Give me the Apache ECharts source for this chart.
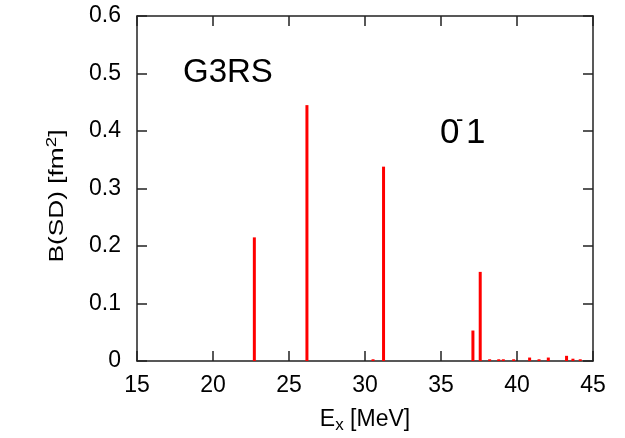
<!DOCTYPE html>
<html>
<head>
<meta charset="utf-8">
<script src="https://cdn.jsdelivr.net/npm/echarts@6/dist/echarts.min.js"></script>
<style>
html,body{margin:0;padding:0;background:#fff;}
#chart{width:625px;height:438px;}
</style>
</head>
<body>
<div id="chart"></div>
<script>
// Excitation energies (MeV) and B(SD) strengths (fm^2)
var energies = [22.72, 26.18, 30.53, 31.22, 37.10, 37.58, 38.20, 38.80, 39.10, 39.78, 40.83, 41.45, 42.06, 43.26, 43.68, 44.16];
var strengths = [0.215, 0.445, 0.003, 0.338, 0.053, 0.155, 0.003, 0.003, 0.003, 0.003, 0.006, 0.003, 0.006, 0.009, 0.004, 0.003];
var xTicks = [15, 20, 25, 30, 35, 40, 45];
var yTicks = [0, 0.1, 0.2, 0.3, 0.4, 0.5, 0.6];

var FONT = 'Liberation Sans, Arial, sans-serif';
var chart = echarts.init(document.getElementById('chart'), null, {renderer: 'canvas'});
var data = energies.map(function (e, i) { return [e, strengths[i]]; });
var xMin = xTicks[0], xMax = xTicks[xTicks.length - 1];
var yMin = yTicks[0], yMax = yTicks[yTicks.length - 1];

function axisBase(extra) {
  var a = {
    type: 'value',
    axisLine: {show: true, onZero: false, lineStyle: {color: '#222', width: 1.5}},
    axisTick: {show: true, inside: true, length: 10, lineStyle: {color: '#222', width: 1.5}},
    splitLine: {show: false}
  };
  for (var k in extra) a[k] = extra[k];
  return a;
}

chart.setOption({
  animation: false,
  backgroundColor: '#fff',
  grid: {left: 137, right: 32, top: 16, bottom: 77, outerBoundsMode: 'none'},
  xAxis: [
    axisBase({
      min: xMin, max: xMax, interval: 5, position: 'bottom',
      axisLabel: {show: true, margin: 13, fontSize: 23, color: '#000', fontFamily: FONT},
      name: '{n|E}{s|x}{n| [MeV]}', nameLocation: 'middle', nameGap: 44,
      nameTextStyle: {rich: {
        n: {fontSize: 23, color: '#000', fontFamily: FONT},
        s: {fontSize: 17, color: '#000', fontFamily: FONT, padding: [12, 0, 0, 0]}
      }}
    }),
    axisBase({min: xMin, max: xMax, interval: 5, position: 'top', axisLabel: {show: false}})
  ],
  yAxis: [
    axisBase({
      min: yMin, max: yMax, interval: 0.1, position: 'left',
      axisLabel: {show: true, margin: 16, fontSize: 23, color: '#000', fontFamily: FONT}
    }),
    axisBase({min: yMin, max: yMax, interval: 0.1, position: 'right', axisLabel: {show: false}})
  ],
  graphic: [
    {type: 'text', x: 57, y: 196, rotation: Math.PI / 2, scaleX: 1.25,
      style: {text: '{n|B(SD) [fm}{s|2}{n|]}', align: 'center', verticalAlign: 'middle',
        rich: {
          n: {fontSize: 21, fill: '#000', fontFamily: FONT},
          s: {fontSize: 15, fill: '#000', fontFamily: FONT, padding: [0, 0, 10, 0]}
        }}},
    {type: 'text', x: 183, y: 56, style: {text: 'G3RS', fontSize: 33, fill: '#000', fontFamily: FONT, verticalAlign: 'top'}},
    {type: 'text', x: 440, y: 116, style: {text: '0', fontSize: 35, fill: '#000', fontFamily: FONT, verticalAlign: 'top'}},
    {type: 'text', x: 456, y: 109, style: {text: '-', fontSize: 22, fill: '#000', fontFamily: FONT, verticalAlign: 'top'}},
    {type: 'text', x: 466, y: 116, style: {text: '1', fontSize: 35, fill: '#000', fontFamily: FONT, verticalAlign: 'top'}}
  ],
  series: [{
    type: 'bar',
    xAxisIndex: 0, yAxisIndex: 0,
    data: data,
    barWidth: 3,
    itemStyle: {color: '#ff0000'}
  }]
});
</script>
</body>
</html>
